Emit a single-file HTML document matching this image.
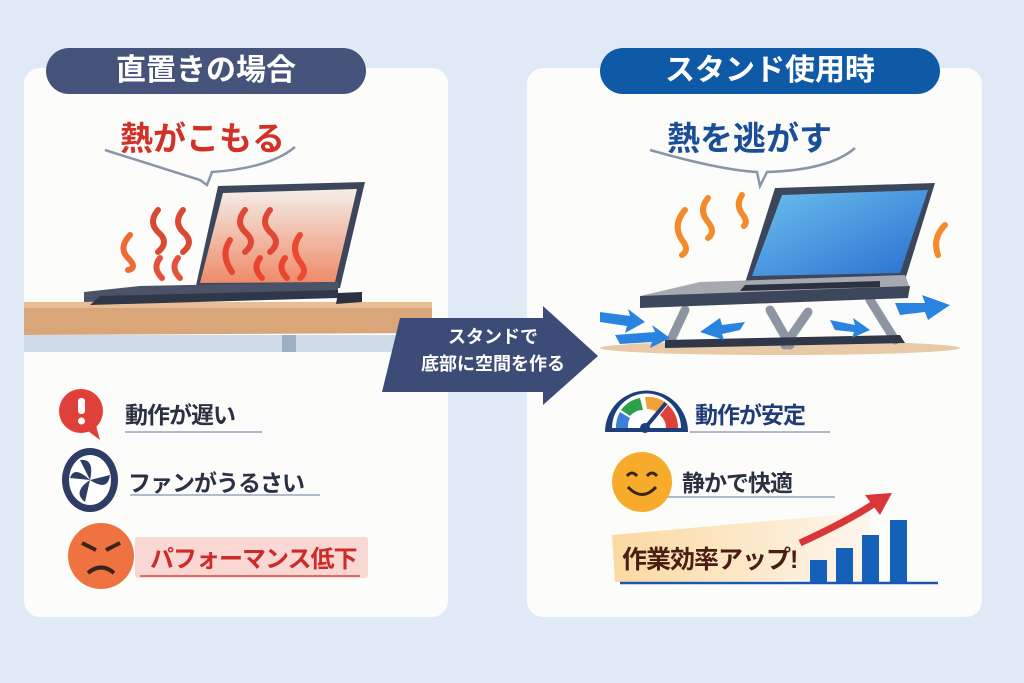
<!DOCTYPE html>
<html><head><meta charset="utf-8"><style>
body{margin:0;width:1024px;height:683px;background:#dfeaf6;position:relative;overflow:hidden;font-family:"Liberation Sans","Noto Sans CJK JP",sans-serif;}
.a{position:absolute;white-space:nowrap;}
.card{position:absolute;background:#fcfcfb;border-radius:16px;}
.pill{position:absolute;border-radius:24px;color:#fff;font-weight:bold;font-size:30px;text-align:center;line-height:46px;}
.t{font-weight:bold;font-size:23px;color:#2b3142;letter-spacing:-1px}
</style></head><body>
<div class="card" style="left:24px;top:68px;width:424px;height:549px"></div>
<div class="card" style="left:527px;top:68px;width:455px;height:549px"></div>
<div class="pill" style="left:46px;top:48px;width:320px;height:46px;background:#46537a">直置きの場合</div>
<div class="pill" style="left:600px;top:48px;width:340px;height:46px;background:#0e5aa7">スタンド使用時</div>

<svg class="a" style="left:0;top:0" width="1024" height="683">
<defs>
<linearGradient id="scr1" x1="0" y1="0" x2="0" y2="1"><stop offset="0" stop-color="#f4eeea"/><stop offset="1" stop-color="#ef8a68"/></linearGradient>
<linearGradient id="scr2" x1="0" y1="0" x2="1" y2="1"><stop offset="0" stop-color="#6cc0ee"/><stop offset="1" stop-color="#2a6fd0"/></linearGradient>
<linearGradient id="ban" x1="0" y1="0" x2="1" y2="0"><stop offset="0" stop-color="#fbd9a0"/><stop offset="1" stop-color="#fdf6ee"/></linearGradient>
</defs>
<path d="M105 150 Q200 180 200 180 L207 185 L212 172 Q270 168 295 147" fill="none" stroke="#8a96a8" stroke-width="2.5"/>
<rect x="24" y="335" width="410" height="17" fill="#cfdbe8"/>
<rect x="282" y="335" width="14" height="17" fill="#9fb0c2"/>
<path d="M24 302 L432 302 L432 333 L24 335Z" fill="#d9a67a"/>
<rect x="24" y="302" width="408" height="6" fill="#e8bd93"/>
<path d="M218 186 L365 182 L340 288 L195 290Z" fill="#3d475c"/>
<path d="M223 193 L357 189 L335 282 L200 283Z" fill="url(#scr1)"/>
<path d="M140 286 L338 282 L338 296 L84 302 L84 292Z" fill="#4a5368"/>
<path d="M100 296 L338 290 L338 298 L90 305Z" fill="#2f3749"/>
<path d="M338 293 L362 292 L362 302 L336 304Z" fill="#2b3140"/>
<g fill="none" stroke-linecap="round" stroke-width="6">
<path d="M130 235 Q118 248 128 258 Q138 268 128 270" stroke="#f06a35"/>
<path d="M158 210 Q148 222 158 232 Q170 242 158 252" stroke="#d94a35"/>
<path d="M183 210 Q173 222 183 232 Q195 242 183 252" stroke="#d94a35"/>
<path d="M160 258 Q152 268 162 278" stroke="#e5503a"/>
<path d="M178 258 Q170 268 180 278" stroke="#e5503a"/>
<path d="M245 210 Q235 222 245 232 Q257 242 245 252" stroke="#e04835"/>
<path d="M270 210 Q260 222 270 232 Q282 242 270 252" stroke="#e04835"/>
<path d="M230 240 Q220 255 232 272" stroke="#e84530"/>
<path d="M260 258 Q252 268 262 278" stroke="#e84530"/>
<path d="M285 258 Q277 268 287 278" stroke="#e84530"/>
<path d="M300 235 Q290 248 300 262 Q308 272 300 278" stroke="#ea4a30"/>
</g>
<path d="M650 150 Q720 170 757 172 L760 186 L767 172 Q830 170 855 148" fill="none" stroke="#8a96a8" stroke-width="2.5"/>
<ellipse cx="780" cy="348" rx="180" ry="7" fill="#e8c9a8"/>
<g stroke="#8d95a3" stroke-width="9" stroke-linecap="round">
<line x1="685" y1="310" x2="670" y2="342"/><line x1="770" y1="310" x2="790" y2="345"/>
<line x1="870" y1="300" x2="895" y2="340"/><line x1="808" y1="312" x2="785" y2="345"/>
</g>
<path d="M665 340 L900 335 L905 343 L665 348Z" fill="#2f3749"/>
<path d="M775 188 L935 183 L905 280 L745 283Z" fill="#3d475c"/>
<path d="M782 195 L928 190 L900 273 L752 276Z" fill="url(#scr2)"/>
<path d="M700 282 L905 275 L910 288 L640 300 L640 296Z" fill="#a7a9b0"/>
<path d="M640 296 L910 286 L908 298 L640 308Z" fill="#3d475c"/>
<path d="M745 285 L880 281 L880 287 L740 291Z" fill="#2b3140"/>
<g fill="none" stroke="#f48a2a" stroke-width="6" stroke-linecap="round">
<path d="M685 210 Q672 225 682 240 Q690 250 682 255"/>
<path d="M708 198 Q698 210 708 222 Q716 232 708 238"/>
<path d="M742 195 Q735 205 743 215 Q748 222 744 226"/>
<path d="M945 225 Q932 238 938 255"/>
</g>
<g fill="#2a84df">
<path d="M600 312 L630 316 L628 309 L645 322 L625 333 L627 326 L600 322Z"/>
<path d="M615 335 L655 332 L652 325 L670 338 L650 348 L652 342 L620 344Z"/>
<path d="M700 332 L720 318 L722 325 L745 322 L740 330 L722 334 L724 340Z"/>
<path d="M830 320 L855 325 L853 318 L870 330 L852 338 L854 332 L835 330Z"/>
<path d="M895 303 L925 303 L922 295 L950 305 L928 320 L925 312 L900 315Z"/>
</g>
<path d="M400 318 L543 318 L543 306 L598 356 L543 405 L543 392 L382 392Z" fill="#3c4c77"/>
<circle cx="81" cy="411" r="22" fill="#e0403a"/>
<path d="M84 428 L100 440 L95 422Z" fill="#e0403a"/>
<rect x="78" y="398" width="7" height="16" rx="3" fill="#fff"/><circle cx="81.5" cy="421" r="3.5" fill="#fff"/>
<line x1="125" y1="432" x2="262" y2="432" stroke="#b0bccc" stroke-width="2"/>
<ellipse cx="90" cy="480" rx="28" ry="32" fill="#2e3d63"/>
<ellipse cx="90" cy="480" rx="21" ry="25" fill="#fff"/>
<g fill="#2e3d63"><path d="M90 480 L80 460 Q95 458 90 480Z"/><path d="M90 480 L110 475 Q108 492 90 480Z"/><path d="M90 480 L85 502 Q72 492 90 480Z"/><path d="M90 480 L70 478 Q74 465 90 480Z"/></g>
<line x1="130" y1="495" x2="320" y2="495" stroke="#b0bccc" stroke-width="2"/>
<rect x="135" y="537" width="233" height="41" rx="3" fill="#f9d7d3"/>
<line x1="140" y1="576" x2="360" y2="576" stroke="#e26a64" stroke-width="2"/>
<circle cx="101" cy="556" r="33" fill="#ef7340"/>
<path d="M82 543 L96 550 M120 543 L106 550" stroke="#3a2418" stroke-width="4"/>
<path d="M88 573 Q101 562 114 573" fill="none" stroke="#3a2418" stroke-width="4"/>
<path d="M605 432 A40 40 0 0 1 688 432Z" fill="#1c3e7a"/>
<path d="M612 428 A34 34 0 0 1 681 428Z" fill="#fff"/>
<path d="M616 428 A30 30 0 0 1 620 412 L630 418 A18 18 0 0 0 628 428Z" fill="#3a7fd8"/>
<path d="M621 410 A30 30 0 0 1 640 398 L643 410 A18 18 0 0 0 630 416Z" fill="#2aa14a"/>
<path d="M645 397 A30 30 0 0 1 665 402 L658 413 A18 18 0 0 0 647 409Z" fill="#f2a13a"/>
<path d="M668 405 A30 30 0 0 1 678 428 L666 428 A18 18 0 0 0 660 415Z" fill="#e0403a"/>
<line x1="645" y1="428" x2="666" y2="403" stroke="#1c3e7a" stroke-width="4"/>
<circle cx="645" cy="428" r="5" fill="#1c3e7a"/>
<line x1="690" y1="432" x2="830" y2="432" stroke="#b0bccc" stroke-width="2"/>
<line x1="620" y1="497" x2="835" y2="497" stroke="#b0bccc" stroke-width="2"/>
<circle cx="642" cy="482" r="30" fill="#f6ac2a"/>
<path d="M627 476 Q632 470 637 476 M647 476 Q652 470 657 476" fill="none" stroke="#3a2418" stroke-width="3"/>
<path d="M628 487 Q642 502 656 487" fill="none" stroke="#3a2418" stroke-width="3"/>
<path d="M612 535 L870 512 L870 580 L615 582Z" fill="url(#ban)"/>
<g fill="#1560b8"><rect x="810" y="560" width="17" height="23"/><rect x="836" y="548" width="17" height="35"/><rect x="862" y="535" width="17" height="48"/><rect x="890" y="520" width="17" height="63"/></g>
<line x1="620" y1="583" x2="938" y2="583" stroke="#1c56b0" stroke-width="2.5"/>
<path d="M800 543 Q850 520 875 503" fill="none" stroke="#d9363a" stroke-width="7"/>
<path d="M865 495 L892 493 L880 515Z" fill="#d9363a"/>
</svg>

<div class="a" style="left:120px;top:112px;font-size:33px;font-weight:bold;color:#d33028">熱がこもる</div>
<div class="a" style="left:667px;top:112px;font-size:33px;font-weight:bold;color:#1a4f97">熱を逃がす</div>
<div class="a" style="left:418px;top:324px;width:150px;text-align:center;color:#fff;font-weight:bold;font-size:18px;line-height:27px">スタンドで<br>底部に空間を作る</div>
<div class="a t" style="left:125px;top:396px">動作が遅い</div>
<div class="a t" style="left:128px;top:464px">ファンがうるさい</div>
<div class="a t" style="left:150px;top:539px;color:#cf2a2a;font-size:24px">パフォーマンス低下</div>
<div class="a t" style="left:695px;top:396px;color:#1f3c78">動作が安定</div>
<div class="a t" style="left:682px;top:464px">静かで快適</div>
<div class="a t" style="left:622px;top:540px;color:#4a1e14;font-size:25px">作業効率アップ!</div>
</body></html>
